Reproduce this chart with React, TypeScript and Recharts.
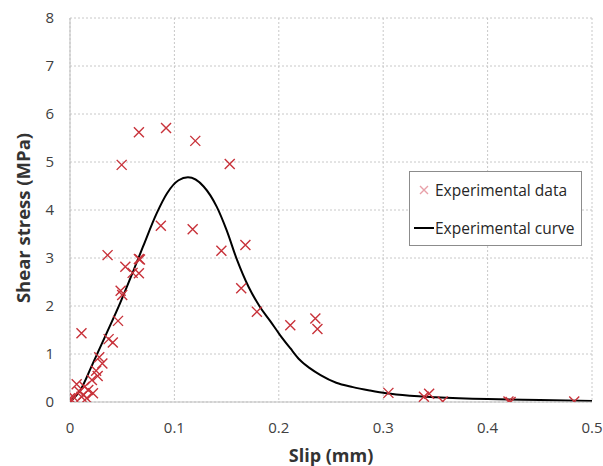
import React from "react";
import {
  ComposedChart,
  Scatter,
  Line,
  XAxis,
  YAxis,
  CartesianGrid,
} from "recharts";

const expSlip = [
  0.066, 0.092, 0.12, 0.0495, 0.153, 0.087, 0.1175,
  0.036, 0.053, 0.066, 0.067, 0.06, 0.066, 0.0485, 0.05, 0.046,
  0.011, 0.037, 0.041, 0.028, 0.031, 0.025, 0.0265, 0.021,
  0.0064, 0.014, 0.0175, 0.009, 0.022, 0.013, 0.003, 0.0, 0.001, 0.011, 0.016,
  0.145, 0.168, 0.164, 0.179, 0.211, 0.235, 0.237,
  0.305, 0.339, 0.344, 0.357, 0.42, 0.422, 0.483,
];
const expStress = [
  5.62, 5.71, 5.44, 4.94, 4.96, 3.67, 3.6,
  3.06, 2.82, 2.98, 2.97, 2.69, 2.68, 2.32, 2.23, 1.69,
  1.43, 1.31, 1.24, 0.93, 0.8, 0.65, 0.54, 0.46,
  0.37, 0.32, 0.25, 0.22, 0.18, 0.15, 0.11, 0.08, 0.02, 0.11, 0.08,
  3.15, 3.27, 2.37, 1.88, 1.6, 1.74, 1.52,
  0.19, 0.11, 0.17, 0.01, 0.01, 0.0, 0.01,
];

const curveSlip = [
  0, 0.01, 0.022, 0.035, 0.048, 0.061, 0.07, 0.083, 0.093, 0.104, 0.113,
  0.128, 0.1405, 0.15, 0.16, 0.171, 0.182, 0.192, 0.201, 0.211, 0.22,
  0.23, 0.24, 0.255, 0.271, 0.287, 0.303, 0.326, 0.35, 0.4, 0.45, 0.5,
];
const curveStress = [
  0, 0.25, 0.81, 1.43, 2.06, 2.75, 3.24, 3.93, 4.35, 4.62, 4.68,
  4.49, 4.07, 3.58, 2.96, 2.4, 1.98, 1.68, 1.4, 1.12, 0.88,
  0.7, 0.56, 0.4, 0.31, 0.24, 0.18, 0.13, 0.1, 0.06, 0.04, 0.02,
];

const xTicks = [0, 0.1, 0.2, 0.3, 0.4, 0.5];
const yTicks = [0, 1, 2, 3, 4, 5, 6, 7, 8];

const scatterData = expSlip.map((x, i) => ({ x, y: expStress[i] }));
const curveData = curveSlip.map((x, i) => ({ x, y: curveStress[i] }));

const FONT = "'Open Sans', sans-serif";
const RED = "#c8323a";

const Cross = (props: any) => {
  const { cx, cy } = props;
  if (cx == null || cy == null) return null;
  const r = 5;
  return (
    <path
      d={`M${cx - r},${cy - r}L${cx + r},${cy + r}M${cx - r},${cy + r}L${cx + r},${cy - r}`}
      stroke={RED}
      strokeWidth={1.4}
      fill="none"
    />
  );
};

const LegendBox = () => (
  <div
    style={{
      position: "absolute",
      left: 409,
      top: 171,
      width: 173,
      height: 75,
      border: "1px solid #8c8c8c",
      background: "#fff",
      fontFamily: FONT,
      fontSize: 15.5,
      color: "#262626",
      boxSizing: "border-box",
    }}
  >
    <div style={{ position: "absolute", left: 3, top: 7, display: "flex", alignItems: "center", whiteSpace: "nowrap" }}>
      <svg width={22} height={14}>
        <path d="M7,3L15,11M7,11L15,3" stroke="#e8a0a8" strokeWidth={1.4} />
      </svg>
      <span>Experimental data</span>
    </div>
    <div style={{ position: "absolute", left: 3, top: 45, display: "flex", alignItems: "center", whiteSpace: "nowrap" }}>
      <svg width={22} height={14}>
        <line x1={1} y1={7} x2={21} y2={7} stroke="#000" strokeWidth={2} />
      </svg>
      <span>Experimental curve</span>
    </div>
  </div>
);

const XLabel = (props: any) => {
  const vb = props.viewBox || {};
  return (
    <text
      x={vb.x + vb.width / 2}
      y={vb.y + 53}
      textAnchor="middle"
      dominantBaseline="central"
      fontFamily={FONT}
      fontSize={18}
      fontWeight={700}
      fill="#333"
    >
      Slip (mm)
    </text>
  );
};

const YLabel = (props: any) => {
  const vb = props.viewBox || {};
  const cx = vb.x + 22;
  const cy = vb.y + vb.height / 2 + 8;
  return (
    <text
      x={cx}
      y={cy}
      transform={`rotate(-90, ${cx}, ${cy})`}
      textAnchor="middle"
      dominantBaseline="central"
      fontFamily={FONT}
      fontSize={18.5}
      fontWeight={700}
      fill="#333"
    >
      Shear stress (MPa)
    </text>
  );
};

export default function App() {
  return (
    <div style={{ position: "absolute", left: 0, top: 0, width: 603, height: 466, background: "#fff" }}>
      <ComposedChart
        width={603}
        height={466}
        margin={{ top: 18, right: 11, left: 0, bottom: 0 }}
      >
        <CartesianGrid stroke="#c8c8c8" strokeDasharray="2 2" />
        <XAxis
          type="number"
          dataKey="x"
          domain={[0, 0.5]}
          ticks={xTicks}
          allowDataOverflow
          height={64}
          tickSize={0}
          tickMargin={20}
          axisLine={{ stroke: "#bfbfbf" }}
          tickLine={false}
          tick={{ fontFamily: FONT, fontSize: 15, fill: "#404040" }}
          tickFormatter={(v: number) => String(v)}
          label={<XLabel />}
        />
        <YAxis
          type="number"
          dataKey="y"
          domain={[0, 8]}
          ticks={yTicks}
          allowDataOverflow
          width={70}
          tickSize={0}
          tickMargin={16}
          axisLine={{ stroke: "#bfbfbf" }}
          tickLine={false}
          tick={{ fontFamily: FONT, fontSize: 15, fill: "#404040" }}
          label={<YLabel />}
        />
        <Scatter
          name="Experimental data"
          data={scatterData}
          shape={<Cross />}
          isAnimationActive={false}
        />
        <Line
          name="Experimental curve"
          data={curveData}
          dataKey="y"
          type="monotone"
          stroke="#000"
          strokeWidth={2}
          dot={false}
          activeDot={false}
          isAnimationActive={false}
        />
      </ComposedChart>
      <LegendBox />
    </div>
  );
}
